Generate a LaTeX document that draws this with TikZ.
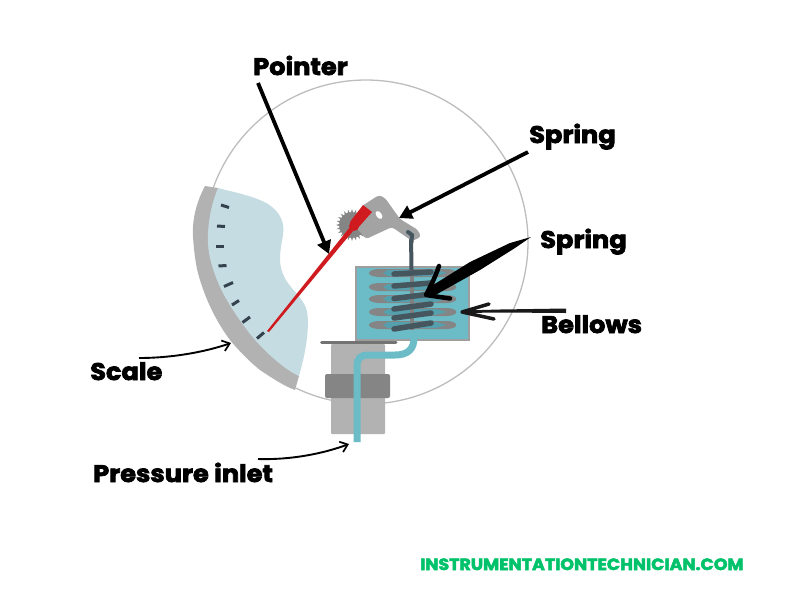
\documentclass[tikz,border=0pt]{standalone}
\usepackage{fontspec}
\setmainfont{Poppins}[BoldFeatures={FakeBold=3,FakeStretch=1.07}]
\usetikzlibrary{arrows.meta}
\definecolor{teal}{HTML}{6BBCC7}
\definecolor{tealdk}{HTML}{569FAD}
\definecolor{scaleblue}{HTML}{C5DCE3}
\definecolor{metal}{HTML}{B2B2B2}
\definecolor{metaldk}{HTML}{858585}
\definecolor{lever}{HTML}{A3A3A3}
\definecolor{coil}{HTML}{45565F}
\definecolor{tick}{HTML}{33424C}
\definecolor{needle}{HTML}{CF1B1F}
\definecolor{webgreen}{HTML}{00C26A}
\tikzset{
  lab/.style={anchor=base west,inner sep=0pt,text=black,font=\fontsize{#1}{#1}\selectfont\bfseries},
  ticks/.style={draw=tick,line width=3pt},
  coilbar/.style={draw=coil,line width=5.5pt,line cap=round},
  callout/.style={draw=black,line width=1.9pt,-{Straight Barb[length=7pt,width=11pt,line width=1.7pt]}},
  straightarrow/.style={draw=black,line width=3.8pt,-{Triangle[length=13pt,width=14pt]}}
}
\begin{document}
\begin{tikzpicture}[x=1pt,y=-1pt]
\useasboundingbox (0,0) rectangle (800,600);
\fill[white] (0,0) rectangle (800,600);
% dial
\draw[draw=black!26,line width=1.3pt] (366,242) circle[radius=162];
% scale rim and face
\fill[metal] (205,186) .. controls (196,203) and (192,220) .. (193,237) .. controls (194,252) and (196,268) .. (200,280) .. controls (207,303) and (218,324) .. (230,340) .. controls (240,352) and (250,362) .. (260,370) .. controls (272,378) and (284,386) .. (295,390) -- (299,376) -- (280,300) -- (218,188) -- cycle;
\fill[scaleblue] (218,188) .. controls (232,192) and (252,195) .. (268,204) .. controls (280,212) and (285,222) .. (283,235) .. controls (280,252) and (278,262) .. (283,274) .. controls (288,288) and (303,296) .. (307,311) .. controls (310,330) and (305,355) .. (299,376) .. controls (285,370) and (262,350) .. (247,330) .. controls (232,310) and (222,293) .. (217,280) .. controls (210,262) and (207,248) .. (208,233) .. controls (209,215) and (213,200) .. (218,188) -- cycle;
\draw[ticks] (221,205) -- (229,207.5);
\draw[ticks] (217,226) -- (225,226.5);
\draw[ticks] (216,246) -- (224,246);
\draw[ticks] (218.5,266) -- (226.5,265.5);
\draw[ticks] (224,286.5) -- (233,282.5);
\draw[ticks] (232,305) -- (239,300.5);
\draw[ticks] (242.5,322.5) -- (250,317);
\draw[ticks] (257,338.5) -- (264,332.5);
% stem
\fill[metal,rounded corners=1pt] (331,344) rectangle (385,434);
\fill[metaldk,rounded corners=2pt] (325,374) rectangle (390,398);
\draw[draw=black!55,line width=3pt,line cap=round] (321.5,342.5) -- (396,342.5);
% housing
\filldraw[fill=teal,draw=black!38,line width=1.5pt] (356,267) rectangle (469,340);
\foreach \yy in {273,287,299,312,325}{
  \fill[metaldk] (378,\yy-4) -- (448,\yy-4) .. controls (459,\yy-3) and (459,\yy+3) .. (448,\yy+4) -- (378,\yy+4) .. controls (366,\yy+3) and (366,\yy-3) .. (378,\yy-4) -- cycle;
  \fill[tealdk] (388,\yy-3) -- (436,\yy-3) -- (447,\yy) -- (436,\yy+3) -- (388,\yy+3) -- (383,\yy) -- cycle;
}
\draw[draw=black!50,line width=4pt] (412,330) -- (412,270);
\draw[draw=coil,line width=4pt] (411.5,270) -- (411,235);
\draw[coilbar] (394,274) -- (431,272);
\draw[coilbar] (394,286) -- (431,283);
\draw[coilbar] (394,298.5) -- (431,294);
\draw[coilbar] (394,309) -- (431,304);
\draw[coilbar] (394,318) -- (431,313);
\draw[coilbar] (394,329) -- (431,323);
% pipe
\draw[draw=teal,line width=7pt] (357,442) -- (357,366) .. controls (357,358) and (361,355) .. (368,355) -- (395,355) .. controls (408,355) and (414,349) .. (414,338);
% gear
\fill[metaldk] (352,225) circle[radius=13];
\foreach \a in {0,15,...,345}{
  \fill[metaldk] ([shift={(\a-5:12.5)}]352,225) -- ([shift={(\a:16)}]352,225) -- ([shift={(\a+5:12.5)}]352,225) -- cycle;
}
% lever
\fill[lever,rounded corners=3pt] (362,206) -- (379,195) -- (385,198) -- (400,219) -- (418,230) -- (421,237) -- (412,241) -- (392,227) -- (366,239) -- (355,226) -- cycle;
\fill[white,rotate around={-55:(379,215)}] (379,215) ellipse[x radius=4.5,y radius=2.7];
\draw[draw=coil,line width=4pt,line cap=round] (408,232) -- (412,235) -- (411.5,242);
% needle
\fill[needle] (267,331) -- (269,332) -- (353,231) -- (350,227) -- cycle;
\fill[needle] (363,205) -- (372,212) -- (357,229) -- (350,222) -- cycle;
\fill[needle] (354,226) circle[radius=5];
% labels
\node[lab=24] (pointerLabel) at (253,75) {Pointer};
\node[lab=24] (springTopLabel) at (529,143) {Spring};
\node[lab=24] (springLabel) at (540,248) {Spring};
\node[lab=24] (bellowsLabel) at (541,333) {Bellows};
\node[lab=24] (scaleLabel) at (90,380) {Scale};
\node[lab=24] (inletLabel) at (93,482) {Pressure inlet};
\node[anchor=base west,inner sep=0pt,text=webgreen,font=\fontsize{16.3}{16.3}\selectfont\bfseries] (siteLabel) at (420,570) {INSTRUMENTATIONTECHNICIAN.COM};
% connector ends
\coordinate (pointerTail) at (258,83);
\coordinate (pointerTip) at (329,254);
\coordinate (springTopTail) at (528,152);
\coordinate (springTopTip) at (399,218);
\coordinate (scaleTail) at (139,358);
\coordinate (scaleTip) at (231,343);
\coordinate (inletTail) at (258,459);
\coordinate (inletTip) at (349,444);
\draw[straightarrow] (pointerTail) -- (pointerTip);
\draw[straightarrow] (springTopTail) -- (springTopTip);
\draw[callout] (scaleTail) .. controls (172,358) and (205,352) .. (scaleTip);
\draw[callout] (inletTail) .. controls (290,460) and (322,454) .. (inletTip);
% brush-stroke arrows
\fill[black] (531,237) -- (510,243) -- (470,262) -- (430,287) -- (430,298) -- (480,270) -- (515,248) -- cycle;
\draw[black,line width=4.5pt,line cap=round,line join=round] (439,266) .. controls (435,278) and (430,287) .. (426,295) -- (450,298.5);
\fill[black!90] (566,308.5) -- (566,313) -- (500,312.5) -- (463,313) -- (463,310.5) -- (500,309.5) -- cycle;
\draw[black!90,line width=3.5pt,line cap=round,line join=round] (489,304) -- (462,312) -- (494,319);
\end{tikzpicture}
\end{document}
